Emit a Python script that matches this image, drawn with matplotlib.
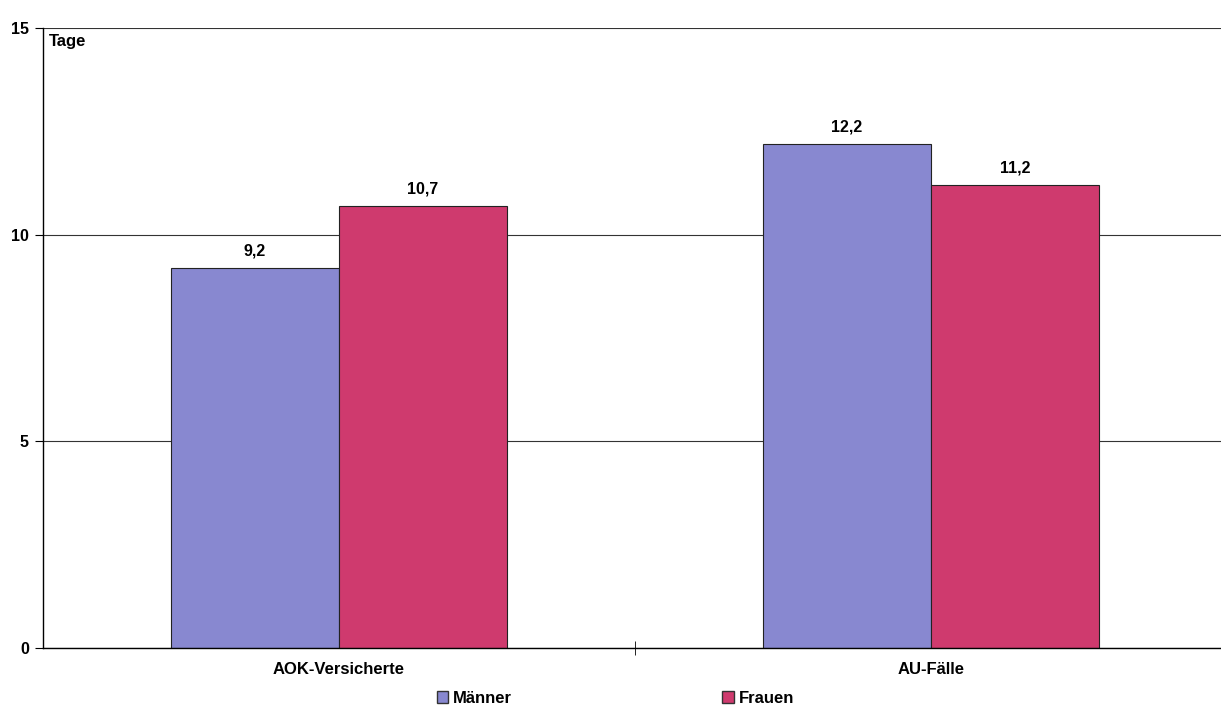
import matplotlib.pyplot as plt
import numpy as np
from matplotlib.patches import Patch

plt.rcParams["font.family"] = ["Liberation Sans", "DejaVu Sans"]
plt.rcParams["font.weight"] = "bold"

categories = ["AOK-Versicherte", "AU-Fälle"]
maenner = [9.2, 12.2]
frauen = [10.7, 11.2]
value_labels_m = ["9,2", "12,2"]
value_labels_f = ["10,7", "11,2"]

col_m = "#8888d0"
col_f = "#cf3a6e"

fig = plt.figure(figsize=(12.21, 7.06), dpi=100)
ax = fig.add_axes([0.035, 0.082, 0.965, 0.878])

x = np.arange(len(categories))
w = 0.284
bm = ax.bar(x - w / 2, maenner, w, color=col_m, edgecolor="#222222", linewidth=0.8, zorder=2)
bf = ax.bar(x + w / 2, frauen, w, color=col_f, edgecolor="#222222", linewidth=0.8, zorder=2)
ax.bar_label(bm, labels=value_labels_m, padding=7, fontsize=11.5, fontweight="bold")
ax.bar_label(bf, labels=value_labels_f, padding=7, fontsize=11.5, fontweight="bold")

ax.set_ylim(0, 15)
ax.set_xlim(-0.5, 1.49)
ax.set_yticks([0, 5, 10, 15])
ax.yaxis.grid(True, color="#333333", linewidth=0.8, zorder=0)
ax.set_axisbelow(True)
ax.tick_params(axis="y", direction="out", length=6, labelsize=11.5, pad=4)

ax.set_xticks(x)
ax.set_xticklabels(categories, fontsize=12, fontweight="bold")
ax.tick_params(axis="x", length=0, pad=10)
ax.set_xticks([0.5], minor=True)
ax.tick_params(axis="x", which="minor", direction="inout", length=10)

for s in ["top", "right"]:
    ax.spines[s].set_visible(False)
ax.spines["left"].set_linewidth(1.0)
ax.spines["bottom"].set_linewidth(1.0)

ax.text(0.005, 0.99, "Tage", transform=ax.transAxes, ha="left", va="top",
        fontsize=12, fontweight="bold")

handles = [Patch(facecolor=col_m, edgecolor="#333333", label="Männer"),
           Patch(facecolor=col_f, edgecolor="#333333", label="Frauen")]
fig.legend(handles=handles, loc="lower center", bbox_to_anchor=(0.504, -0.021), ncol=2,
           frameon=False, fontsize=12, handlelength=0.7, handleheight=0.7,
           handletextpad=0.3, columnspacing=12.6)

fig.savefig("out.png", dpi=100)
